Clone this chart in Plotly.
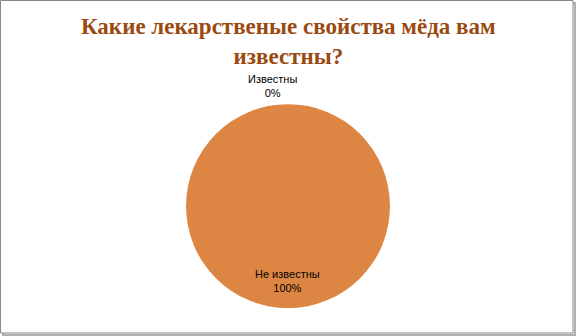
import plotly.graph_objects as go

title = "Какие лекарственые свойства мёда вам<br>известны?"
labels = ["Известны", "Не известны"]
values = [0, 100]
colors = ["#4F81BD", "#DD8643"]

total = sum(values)
pcts = [round(v / total * 100) for v in values]

fig = go.Figure(go.Pie(
    labels=labels,
    values=values,
    sort=False,
    direction="clockwise",
    rotation=90,
    textinfo="none",
    hoverinfo="label+percent",
    marker=dict(colors=colors, line=dict(width=0)),
    domain=dict(x=[0.323, 0.677], y=[0.083, 0.690]),
    showlegend=False,
))

label_pos = [(272 / 576, 1 - 86 / 336), (287 / 576, 1 - 281 / 336)]
for lab, p, (x, y) in zip(labels, pcts, label_pos):
    fig.add_annotation(
        text=f"{lab}<br>{p}%", x=x, y=y, xref="paper", yref="paper",
        xanchor="center", yanchor="middle",
        showarrow=False, font=dict(family="Liberation Sans", size=11, color="#000000"),
        align="center",
    )

fig.add_annotation(
    text=f"<b>{title}</b>", x=0.5, y=1 - 41 / 336, xref="paper", yref="paper",
    xanchor="center", yanchor="middle",
    showarrow=False, align="center",
    font=dict(family="Liberation Serif", size=23, color="#9A4A10"),
)

# border with shadow
fig.add_shape(type="rect", xref="paper", yref="paper",
              x0=3 / 576, x1=1 - 1 / 576, y0=1 / 336, y1=1 - 3 / 336,
              line=dict(color="#B0B0B0", width=2), layer="below")
fig.add_shape(type="rect", xref="paper", yref="paper",
              x0=0.5 / 576, x1=1 - 3 / 576, y0=3 / 336, y1=1 - 0.5 / 336,
              line=dict(color="#8A8A8A", width=1), fillcolor="white", layer="below")

fig.update_layout(
    width=576, height=336,
    margin=dict(l=0, r=0, t=0, b=0),
    paper_bgcolor="white",
    plot_bgcolor="white",
)

fig.write_html("out.html", config={"displayModeBar": False},
               post_script="document.body.style.margin='0';")
